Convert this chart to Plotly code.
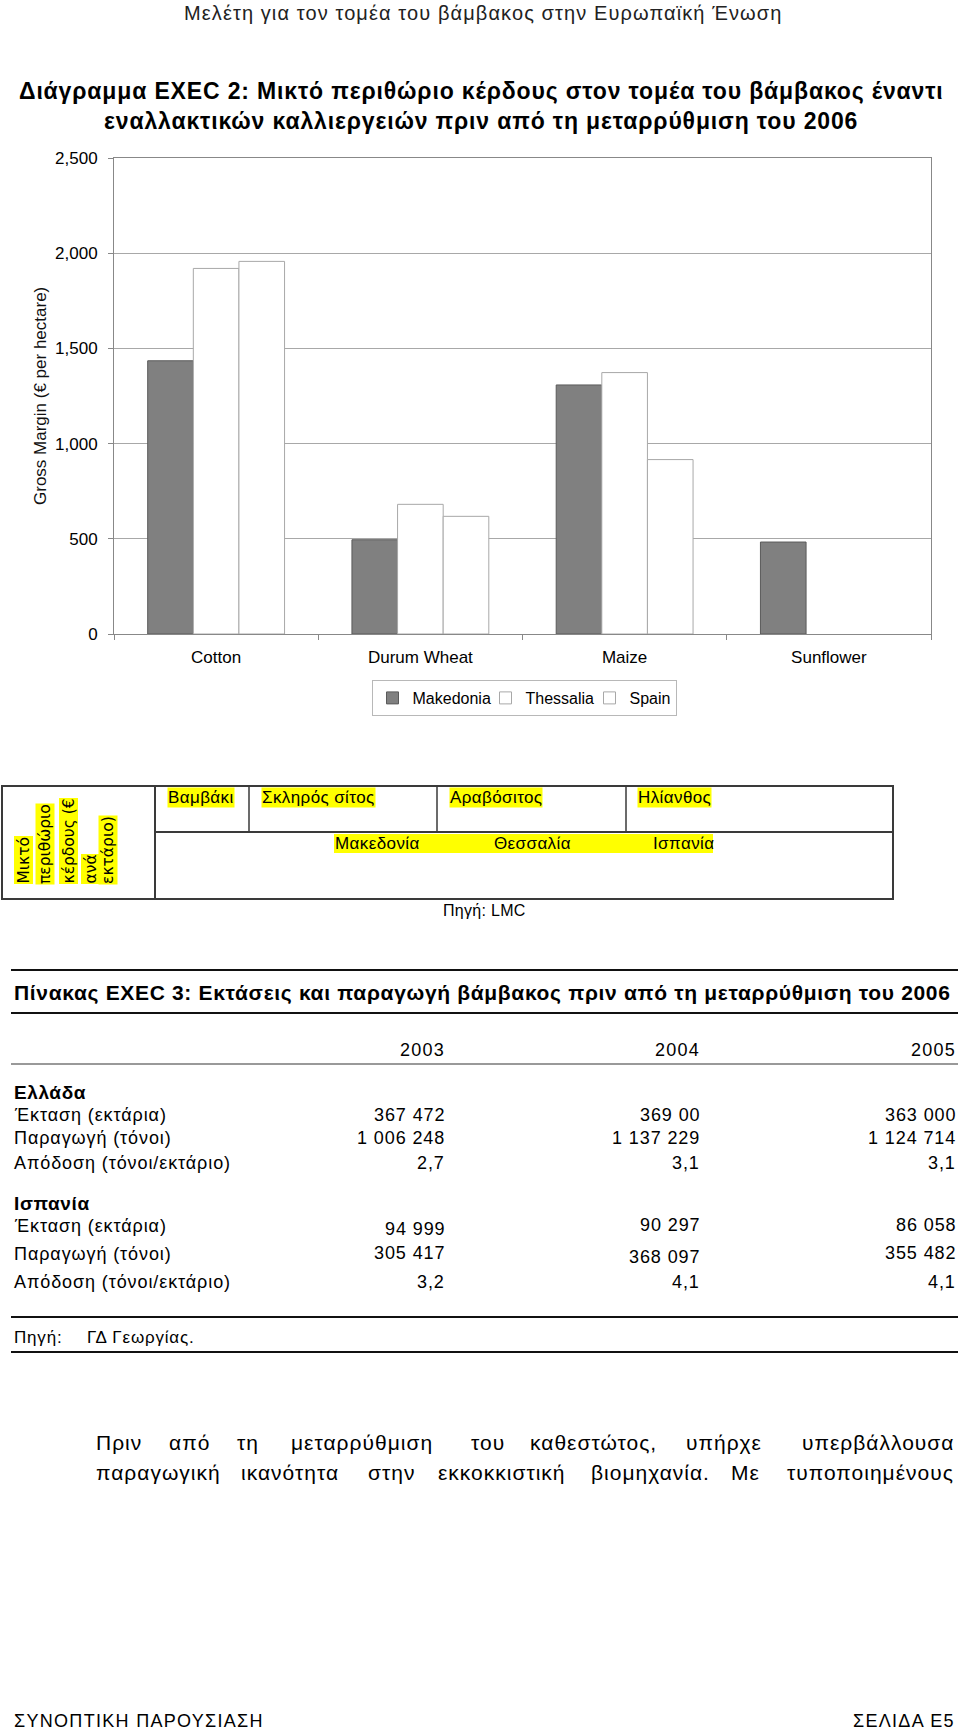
import plotly.graph_objects as go

# ---------------- data ----------------
categories = ["Cotton", "Durum Wheat", "Maize", "Sunflower"]
series_names = ["Makedonia", "Thessalia", "Spain"]
makedonia = [1435, 495, 1308, 483]
thessalia = [1920, 681, 1373, None]
spain = [1957, 618, 916, None]
y_ticks = [0, 500, 1000, 1500, 2000, 2500]

crop_labels_gr = ["Βαμβάκι", "Σκληρός σίτος", "Αραβόσιτος", "Ηλίανθος"]
region_labels_gr = ["Μακεδονία", "Θεσσαλία", "Ισπανία"]
ylabel_words_gr = ["Μικτό", "περιθώριο", "κέρδους (€", "ανά", "εκτάριο)"]

years = ["2003", "2004", "2005"]
row_labels = ["Έκταση (εκτάρια)", "Παραγωγή (τόνοι)", "Απόδοση (τόνοι/εκτάριο)"]
greece_area = ["367 472", "369 00", "363 000"]
greece_prod = ["1 006 248", "1 137 229", "1 124 714"]
greece_yield = ["2,7", "3,1", "3,1"]
spain_area = ["94 999", "90 297", "86 058"]
spain_prod = ["305 417", "368 097", "355 482"]
spain_yield = ["3,2", "4,1", "4,1"]

para_line1 = ["Πριν", "από", "τη", "μεταρρύθμιση", "του", "καθεστώτος,", "υπήρχε", "υπερβάλλουσα"]
para_line2 = ["παραγωγική", "ικανότητα", "στην", "εκκοκκιστική", "βιομηχανία.", "Με", "τυποποιημένους"]

# ---------------- layout geometry (pixels) ----------------
W, H = 960, 1733
PL, PR, PT, PB = 114, 931, 158, 634
FONT = "Liberation Sans, Arial, sans-serif"


def px(x):
    return (x - PL) / (PR - PL)


def py(y):
    return (PB - y) / (PB - PT)


fig = go.Figure()
fig.add_trace(go.Bar(x=categories, y=makedonia, name=series_names[0], legendwidth=68,
                     marker=dict(color="#808080", line=dict(color="#5a5a5a", width=1))))
fig.add_trace(go.Bar(x=categories, y=thessalia, name=series_names[1], legendwidth=59,
                     marker=dict(color="#ffffff", line=dict(color="#a8a8a8", width=1))))
fig.add_trace(go.Bar(x=categories, y=spain, name=series_names[2],
                     marker=dict(color="#ffffff", line=dict(color="#a8a8a8", width=1))))

ann = []
shapes = []


def text(x, y, s, size=17, xanchor="left", yanchor="middle", bold=False, color="#000",
         family=FONT, angle=0, bg=None, ls=0):
    if ls:
        s = '<span style="letter-spacing:%.2fpx">%s</span>' % (ls, s)
    if bold:
        s = "<b>%s</b>" % s
    d = dict(x=px(x), y=py(y), xref="paper", yref="paper", text=s,
             showarrow=False, xanchor=xanchor, yanchor=yanchor, textangle=angle,
             font=dict(size=size, color=color, family=family), borderpad=0)
    if bg:
        d["bgcolor"] = bg
    ann.append(d)


def line(x0, y0, x1, y1, color="#000", width=2):
    shapes.append(dict(type="line", xref="paper", yref="paper", x0=px(x0), y0=py(y0),
                       x1=px(x1), y1=py(y1), line=dict(color=color, width=width)))


# header + title
text(483, 13, "Μελέτη για τον τομέα του βάμβακος στην Ευρωπαϊκή Ένωση", size=20, xanchor="center",
     color="#222", ls=1.1)
text(481, 91, "Διάγραμμα EXEC 2: Μικτό περιθώριο κέρδους στον τομέα του βάμβακος έναντι", size=23,
     xanchor="center", bold=True, ls=0.85)
text(481, 121, "εναλλακτικών καλλιεργειών πριν από τη μεταρρύθμιση του 2006", size=23,
     xanchor="center", bold=True, ls=0.85)

# y axis title
text(40, 396, "Gross Margin (€ per hectare)", size=17, xanchor="center", angle=-90, color="#111")

# yellow-highlight box
shapes.append(dict(type="rect", xref="paper", yref="paper", x0=px(2), y0=py(786), x1=px(893), y1=py(899),
                   line=dict(color="#3a3a3a", width=2)))
line(155, 786, 155, 899, "#3a3a3a", 2)
line(155, 832, 893, 832, "#3a3a3a", 2)
for xv in [249, 437, 626]:
    line(xv, 786, xv, 832, "#3a3a3a", 1.5)
for xv, s in zip([167, 261, 449, 637], crop_labels_gr):
    text(xv, 797, s, size=17, bg="#ffff00", ls=0.4)
shapes.append(dict(type="rect", xref="paper", yref="paper", x0=px(334), y0=py(834), x1=px(713),
                   y1=py(853), fillcolor="#ffff00", line=dict(width=0), layer="below"))
for xv, s in zip([334, 493, 652], region_labels_gr):
    text(xv, 843, s, size=17, ls=0.4)
for xv, s in zip([23, 45, 68, 90, 108], ylabel_words_gr):
    text(xv, 885, s, size=15.5, xanchor="center", yanchor="bottom", angle=-90, bg="#ffff00",
         family="DejaVu Sans, Verdana, sans-serif")
text(484, 910, "Πηγή: LMC", size=16, xanchor="center", ls=0.3)

# table
TB = 18
line(11, 970, 958, 970, "#111", 2)
text(13, 993, "Πίνακας EXEC 3: Εκτάσεις και παραγωγή βάμβακος πριν από τη μεταρρύθμιση του 2006",
     size=21, bold=True, ls=0.67)
line(11, 1013, 958, 1013, "#111", 2)
col_x = [446, 701, 957]
for xv, s in zip(col_x, years):
    text(xv, 1050, s, size=TB, xanchor="right", ls=1.2)
line(11, 1064, 958, 1064, "#999", 2)
text(13, 1092, "Ελλάδα", size=19, bold=True, ls=0.6)
for yv, s in zip([1115, 1138, 1163], row_labels):
    text(13, yv, s, size=TB, ls=0.9)
for yv, vals in zip([1115, 1138, 1163], [greece_area, greece_prod, greece_yield]):
    for xv, s in zip(col_x, vals):
        text(xv, yv, s, size=TB, xanchor="right", ls=0.9)
text(13, 1203, "Ισπανία", size=19, bold=True, ls=0.6)
for yv, s in zip([1226, 1254, 1282], row_labels):
    text(13, yv, s, size=TB, ls=0.9)
spain_rows_y = [[1229, 1225, 1225], [1253, 1257, 1253], [1282, 1282, 1282]]
for ys, vals in zip(spain_rows_y, [spain_area, spain_prod, spain_yield]):
    for xv, yv, s in zip(col_x, ys, vals):
        text(xv, yv, s, size=TB, xanchor="right", ls=0.9)
line(11, 1317, 958, 1317, "#111", 2)
text(13, 1337, "Πηγή:", size=17, ls=0.8)
text(86, 1337, "ΓΔ Γεωργίας.", size=17, ls=0.8)
line(11, 1352, 958, 1352, "#111", 2)


# paragraph (justified: first word left, last word right, others centred)
def justified(words, centres, yv):
    n = len(words)
    for i, (s, cx) in enumerate(zip(words, centres)):
        if i == 0:
            text(95, yv, s, size=21, ls=1.0)
        elif i == n - 1:
            text(955, yv, s, size=21, ls=1.0, xanchor="right")
        else:
            text(cx, yv, s, size=21, ls=1.0, xanchor="center")


justified(para_line1, [119, 189, 248, 362, 488, 593, 724, 874], 1442)
justified(para_line2, [156, 290, 391, 502, 650, 745, 867], 1472)

# footer
text(13, 1721, "ΣΥΝΟΠΤΙΚΗ ΠΑΡΟΥΣΙΑΣΗ", size=18, ls=1.3)
text(956, 1721, "ΣΕΛΙΔΑ Ε5", size=18, xanchor="right", ls=1.3)

fig.update_layout(
    width=W, height=H,
    margin=dict(l=PL, r=W - PR, t=PT, b=H - PB, pad=0),
    paper_bgcolor="white", plot_bgcolor="white",
    barmode="group", bargap=0.33, bargroupgap=0,
    font=dict(family=FONT, size=17, color="#000"),
    showlegend=True,
    legend=dict(orientation="h", x=px(524), xanchor="center", y=py(698), yanchor="middle",
                bordercolor="#b8b8b8", borderwidth=1, font=dict(size=16), itemwidth=30,
                traceorder="normal"),
    annotations=ann, shapes=shapes,
)
fig.update_xaxes(showline=True, linecolor="#888", mirror=True, ticks="outside", ticklen=5,
                 tickcolor="#888", tickson="boundaries", ticklabelstandoff=8,
                 tickfont=dict(size=17), showgrid=False)
fig.update_yaxes(range=[0, 2500], tickvals=y_ticks, tickformat=",", showline=True, linecolor="#888",
                 mirror=True, ticks="outside", ticklen=5, tickcolor="#888", gridcolor="#a8a8a8",
                 zeroline=False, ticklabelstandoff=7, tickfont=dict(size=17))

fig.write_html("out.html", config={"displayModeBar": False},
               post_script="document.body.style.margin='0';document.body.style.overflow='hidden';")
